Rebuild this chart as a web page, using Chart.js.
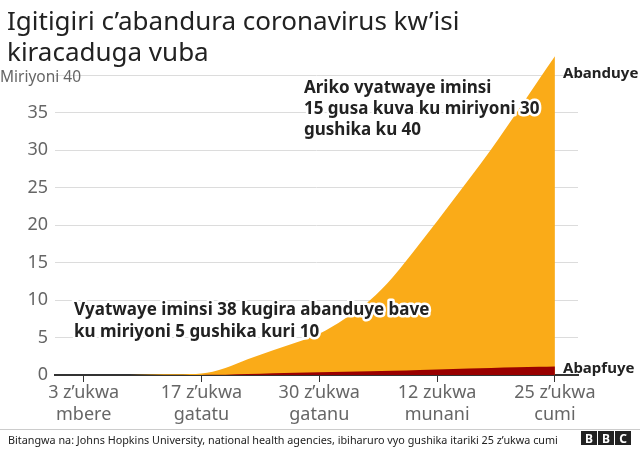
<!DOCTYPE html>
<html>
<head>
<meta charset="utf-8">
<script src="https://cdn.jsdelivr.net/npm/chart.js@4/dist/chart.umd.min.js"></script>
<style>
  html, body { margin: 0; padding: 0; background: #fff; }
  #wrap { position: relative; width: 640px; height: 455px; }
</style>
</head>
<body>
<div id="wrap"><canvas id="chart" width="640" height="455"></canvas></div>
<script>
// iminsi kuva 3 z'ukwa mbere 2020
const days = [0, 19, 29, 43, 58, 67, 74, 81, 89, 103, 119, 133, 148, 164, 180, 194, 211, 222, 242, 256, 272, 286, 296];
// abanduye (miriyoni)
const cases = [0, 0.0006, 0.012, 0.069, 0.088, 0.119, 0.198, 0.42, 0.93, 2.1, 3.3, 4.3, 5.5, 7.5, 10.0, 13.0, 17.5, 20.5, 26.1, 30.1, 35.0, 39.4, 42.5];
// abapfuye (miriyoni)
const deaths = [0, 0.00002, 0.0003, 0.0017, 0.003, 0.004, 0.008, 0.019, 0.047, 0.13, 0.24, 0.31, 0.37, 0.44, 0.51, 0.58, 0.68, 0.74, 0.86, 0.94, 1.02, 1.09, 1.15];

const tickDays = [0, 74, 148, 222, 296];
const tickLabels = [
    ["3 z\u2019ukwa", "mbere"],
    ["17 z\u2019ukwa", "gatatu"],
    ["30 z\u2019ukwa", "gatanu"],
    ["12 zukwa", "munani"],
    ["25 z\u2019ukwa", "cumi"]
];

const FONT = "'Noto Sans', 'Open Sans', sans-serif";

function haloText(ctx, text, x, y) {
    ctx.lineJoin = "round";
    ctx.lineWidth = 5;
    ctx.strokeStyle = "#fff";
    ctx.strokeText(text, x, y);
    ctx.fillStyle = "#222";
    ctx.fillText(text, x, y);
}

// inyandiko zose ziri hanze y'igishushanyo
const extras = {
    id: "extras",
    afterDraw(chart) {
        const ctx = chart.ctx;
        ctx.save();
        ctx.textBaseline = "alphabetic";
        ctx.textAlign = "left";

        // umutwe
        ctx.fillStyle = "#222";
        ctx.font = "26px " + FONT;
        ctx.fillText("Igitigiri c\u2019abandura coronavirus kw\u2019isi", 7, 30);
        ctx.fillText("kiracaduga vuba", 7, 61);

        // Miriyoni 40
        ctx.fillStyle = "#666";
        ctx.font = "15.5px " + FONT;
        ctx.fillText("Miriyoni 40", 0, 82);

        // amajambo ku ruhande
        ctx.fillStyle = "#222";
        ctx.font = "bold 15px " + FONT;
        ctx.fillText("Abanduye", 563, 78);
        ctx.fillText("Abapfuye", 563, 373);

        // ibisobanuro
        ctx.font = "bold 17px " + FONT;
        haloText(ctx, "Ariko vyatwaye iminsi", 304, 93);
        haloText(ctx, "15 gusa kuva ku miriyoni 30", 304, 114);
        haloText(ctx, "gushika ku 40", 304, 135);
        haloText(ctx, "Vyatwaye iminsi 38 kugira abanduye bave", 74, 315);
        haloText(ctx, "ku miriyoni 5 gushika kuri 10", 74, 337);

        // umurongo wo hasi n'isoko
        ctx.strokeStyle = "#ccc";
        ctx.lineWidth = 1;
        ctx.beginPath();
        ctx.moveTo(0, 429.5);
        ctx.lineTo(640, 429.5);
        ctx.stroke();

        ctx.fillStyle = "#222";
        ctx.font = "10.8px " + FONT;
        ctx.fillText("Bitangwa na: Johns Hopkins University, national health agencies, ibiharuro vyo gushika itariki 25 z\u2019ukwa cumi", 8, 444);

        // BBC
        ctx.font = "bold 12px " + FONT;
        ctx.textAlign = "center";
        ["B", "B", "C"].forEach((l, i) => {
            const bx = 581 + i * 17;
            ctx.fillStyle = "#222";
            ctx.fillRect(bx, 431, 16, 14);
            ctx.fillStyle = "#fff";
            ctx.fillText(l, bx + 8, 442.5);
        });
        ctx.restore();
    }
};

new Chart(document.getElementById("chart"), {
    type: "line",
    data: {
        labels: days,
        datasets: [
            {
                label: "Abapfuye",
                data: days.map((d, i) => ({ x: d, y: deaths[i] })),
                backgroundColor: "#990000",
                borderWidth: 0,
                pointRadius: 0,
                fill: "origin",
                cubicInterpolationMode: "monotone"
            },
            {
                label: "Abanduye",
                data: days.map((d, i) => ({ x: d, y: cases[i] })),
                backgroundColor: "#FAAB18",
                borderWidth: 0,
                pointRadius: 0,
                fill: "origin",
                cubicInterpolationMode: "monotone"
            }
        ]
    },
    options: {
        responsive: false,
        animation: false,
        layout: { padding: { left: 0, right: 62, top: 52.5, bottom: 30 } },
        plugins: {
            legend: { display: false },
            tooltip: { enabled: false }
        },
        scales: {
            x: {
                type: "linear",
                min: -18,
                max: 310.5,
                afterBuildTicks: axis => {
                    axis.ticks = tickDays.map(v => ({ value: v }));
                },
                afterFit: axis => { axis.height = 50; },
                ticks: {
                    callback: (v) => tickLabels[tickDays.indexOf(v)],
                    color: "#666",
                    font: { family: FONT, size: 18 },
                    padding: 0,
                    maxRotation: 0,
                    autoSkip: false
                },
                grid: {
                    drawOnChartArea: false,
                    tickLength: 7,
                    tickColor: "#333",
                    tickWidth: 1
                },
                border: { color: "#333", width: 2 }
            },
            y: {
                min: 0,
                max: 43,
                afterFit: axis => { axis.width = 55; },
                ticks: {
                    stepSize: 5,
                    includeBounds: false,
                    callback: v => (v === 40 ? "" : v),
                    color: "#666",
                    font: { family: FONT, size: 18 },
                    padding: 7
                },
                grid: { color: "#dcdcdc", drawTicks: false },
                border: { display: false }
            }
        }
    },
    plugins: [extras]
});
</script>
</body>
</html>
